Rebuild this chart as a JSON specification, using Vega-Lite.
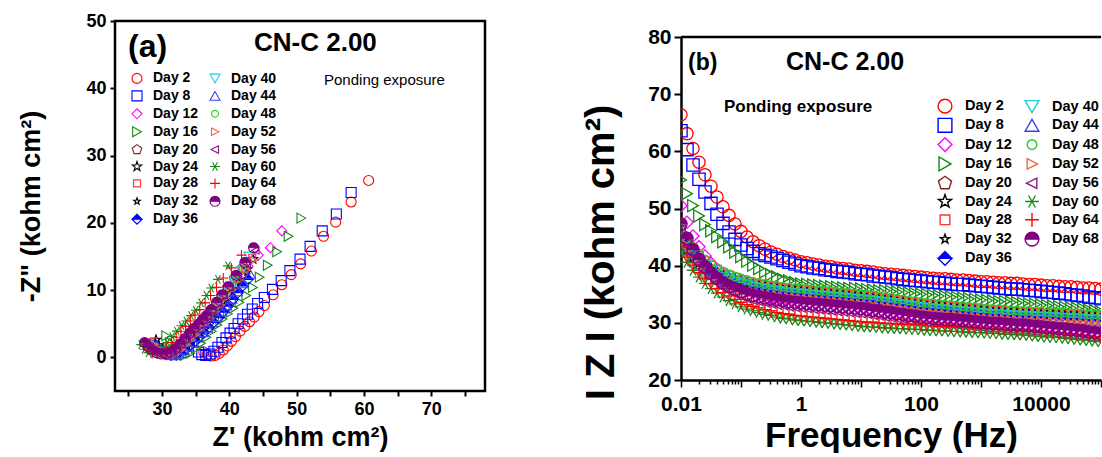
{
"$schema":"https://vega.github.io/schema/vega-lite/v6.json",
"background":"white",
"padding":{"left":16,"top":10,"right":0,"bottom":0},
"config":{"font":"Liberation Sans","view":{"stroke":null},
"axis":{"grid":false,"domainColor":"black","tickColor":"black","labelColor":"black","titleColor":"black","labelFont":"Liberation Sans","titleFont":"Liberation Sans","labelFontWeight":"bold","titleFontWeight":"bold"},
"legend":{"labelFont":"Liberation Sans","labelColor":"black","labelFontWeight":"bold","padding":0}},
"datasets":{
"nyq":[
{"s":"02","x":36.2,"y":0.8},{"s":"02","x":36.7,"y":0.4},{"s":"02","x":37.3,"y":0.2},{"s":"02","x":37.9,"y":0.3},{"s":"02","x":38.5,"y":0.6},{"s":"02","x":39.1,"y":1.1},{"s":"02","x":39.7,"y":1.7},{"s":"02","x":40.3,"y":2.4},{"s":"02","x":40.9,"y":3.1},{"s":"02","x":41.6,"y":3.9},{"s":"02","x":42.3,"y":4.6},{"s":"02","x":43.0,"y":5.3},{"s":"02","x":43.7,"y":6.0},{"s":"02","x":44.4,"y":6.8},{"s":"02","x":45.2,"y":7.7},{"s":"02","x":46.5,"y":9.3},{"s":"02","x":47.8,"y":10.8},{"s":"02","x":49.2,"y":12.3},{"s":"02","x":50.6,"y":13.9},{"s":"02","x":52.2,"y":15.8},{"s":"02","x":54.0,"y":18.0},{"s":"02","x":55.8,"y":20.1},{"s":"02","x":58.1,"y":23.1},{"s":"02","x":60.7,"y":26.3},
{"s":"08","x":35.4,"y":0.8},{"s":"08","x":35.9,"y":0.4},{"s":"08","x":36.5,"y":0.3},{"s":"08","x":37.1,"y":0.5},{"s":"08","x":37.7,"y":0.9},{"s":"08","x":38.3,"y":1.5},{"s":"08","x":38.9,"y":2.2},{"s":"08","x":39.5,"y":2.9},{"s":"08","x":40.1,"y":3.6},{"s":"08","x":40.7,"y":4.3},{"s":"08","x":41.3,"y":5.0},{"s":"08","x":42.0,"y":5.7},{"s":"08","x":42.7,"y":6.4},{"s":"08","x":43.4,"y":7.2},{"s":"08","x":44.2,"y":8.0},{"s":"08","x":45.2,"y":8.9},{"s":"08","x":46.4,"y":10.1},{"s":"08","x":47.7,"y":11.4},{"s":"08","x":49.0,"y":12.9},{"s":"08","x":50.5,"y":14.6},{"s":"08","x":52.0,"y":16.5},{"s":"08","x":53.8,"y":18.8},{"s":"08","x":55.9,"y":21.3},{"s":"08","x":58.1,"y":24.5},
{"s":"12","x":28.5,"y":1.6},{"s":"12","x":29.1,"y":1.1},{"s":"12","x":29.8,"y":0.7},{"s":"12","x":30.5,"y":0.4},{"s":"12","x":31.2,"y":0.3},{"s":"12","x":31.9,"y":0.5},{"s":"12","x":32.6,"y":1.0},{"s":"12","x":33.3,"y":1.7},{"s":"12","x":34.0,"y":2.5},{"s":"12","x":34.7,"y":3.3},{"s":"12","x":35.4,"y":4.1},{"s":"12","x":36.1,"y":4.9},{"s":"12","x":36.9,"y":5.8},{"s":"12","x":37.7,"y":6.8},{"s":"12","x":38.5,"y":7.8},{"s":"12","x":39.4,"y":8.9},{"s":"12","x":40.4,"y":10.2},{"s":"12","x":41.5,"y":11.7},{"s":"12","x":42.8,"y":13.5},{"s":"12","x":44.3,"y":15.2},{"s":"12","x":46.1,"y":16.3},{"s":"12","x":47.8,"y":18.8},
{"s":"16","x":30.6,"y":3.2},{"s":"16","x":31.2,"y":2.2},{"s":"16","x":31.9,"y":1.2},{"s":"16","x":32.6,"y":0.5},{"s":"16","x":33.4,"y":0.3},{"s":"16","x":34.2,"y":0.6},{"s":"16","x":35.0,"y":1.3},{"s":"16","x":35.8,"y":2.1},{"s":"16","x":36.6,"y":3.0},{"s":"16","x":37.4,"y":3.9},{"s":"16","x":38.2,"y":4.8},{"s":"16","x":39.0,"y":5.7},{"s":"16","x":39.8,"y":6.5},{"s":"16","x":40.6,"y":7.3},{"s":"16","x":41.5,"y":8.2},{"s":"16","x":42.5,"y":9.2},{"s":"16","x":43.5,"y":10.4},{"s":"16","x":44.5,"y":11.9},{"s":"16","x":45.7,"y":13.7},{"s":"16","x":47.1,"y":15.7},{"s":"16","x":48.8,"y":18.0},{"s":"16","x":50.7,"y":20.7},
{"s":"20","x":28.2,"y":2.0},{"s":"20","x":28.8,"y":1.4},{"s":"20","x":29.5,"y":0.9},{"s":"20","x":30.2,"y":0.6},{"s":"20","x":30.9,"y":0.5},{"s":"20","x":31.6,"y":0.8},{"s":"20","x":32.3,"y":1.4},{"s":"20","x":33.0,"y":2.1},{"s":"20","x":33.7,"y":2.9},{"s":"20","x":34.4,"y":3.7},{"s":"20","x":35.1,"y":4.5},{"s":"20","x":35.8,"y":5.3},{"s":"20","x":36.5,"y":6.1},{"s":"20","x":37.2,"y":7.0},{"s":"20","x":38.0,"y":8.0},{"s":"20","x":38.8,"y":9.1},{"s":"20","x":39.7,"y":10.3},{"s":"20","x":40.7,"y":11.7},{"s":"20","x":41.9,"y":13.3},
{"s":"24","x":29.1,"y":2.6},{"s":"24","x":29.5,"y":1.8},{"s":"24","x":30.1,"y":1.1},{"s":"24","x":30.8,"y":0.6},{"s":"24","x":31.5,"y":0.4},{"s":"24","x":32.2,"y":0.6},{"s":"24","x":32.9,"y":1.2},{"s":"24","x":33.6,"y":1.9},{"s":"24","x":34.3,"y":2.7},{"s":"24","x":35.0,"y":3.5},{"s":"24","x":35.7,"y":4.3},{"s":"24","x":36.4,"y":5.1},{"s":"24","x":37.1,"y":5.9},{"s":"24","x":37.8,"y":6.8},{"s":"24","x":38.6,"y":7.8},{"s":"24","x":39.4,"y":8.9},{"s":"24","x":40.3,"y":10.1},{"s":"24","x":41.4,"y":11.5},{"s":"24","x":42.6,"y":13.1},{"s":"24","x":43.5,"y":14.6},
{"s":"28","x":28.6,"y":2.3},{"s":"28","x":29.1,"y":1.6},{"s":"28","x":29.7,"y":1.0},{"s":"28","x":30.4,"y":0.6},{"s":"28","x":31.1,"y":0.4},{"s":"28","x":31.8,"y":0.6},{"s":"28","x":32.5,"y":1.2},{"s":"28","x":33.2,"y":1.9},{"s":"28","x":33.9,"y":2.7},{"s":"28","x":34.6,"y":3.5},{"s":"28","x":35.3,"y":4.3},{"s":"28","x":36.0,"y":5.1},{"s":"28","x":36.7,"y":6.0},{"s":"28","x":37.5,"y":7.0},{"s":"28","x":38.3,"y":8.0},{"s":"28","x":39.1,"y":9.1},{"s":"28","x":40.0,"y":10.3},{"s":"28","x":41.1,"y":11.7},{"s":"28","x":42.3,"y":13.2},{"s":"28","x":43.4,"y":14.8},
{"s":"32","x":29.0,"y":2.2},{"s":"32","x":29.6,"y":1.5},{"s":"32","x":30.3,"y":0.9},{"s":"32","x":31.0,"y":0.5},{"s":"32","x":31.7,"y":0.4},{"s":"32","x":32.4,"y":0.6},{"s":"32","x":33.1,"y":1.1},{"s":"32","x":33.8,"y":1.7},{"s":"32","x":34.5,"y":2.4},{"s":"32","x":35.2,"y":3.1},{"s":"32","x":35.9,"y":3.9},{"s":"32","x":36.6,"y":4.7},{"s":"32","x":37.3,"y":5.5},{"s":"32","x":38.0,"y":6.4},{"s":"32","x":38.8,"y":7.4},{"s":"32","x":39.6,"y":8.5},{"s":"32","x":40.5,"y":9.7},{"s":"32","x":41.5,"y":11.1},{"s":"32","x":42.6,"y":12.6},
{"s":"36","x":28.8,"y":2.0},{"s":"36","x":29.4,"y":1.4},{"s":"36","x":30.0,"y":0.9},{"s":"36","x":30.7,"y":0.5},{"s":"36","x":31.4,"y":0.3},{"s":"36","x":32.1,"y":0.3},{"s":"36","x":32.8,"y":0.6},{"s":"36","x":33.5,"y":1.1},{"s":"36","x":34.2,"y":1.7},{"s":"36","x":34.9,"y":2.3},{"s":"36","x":35.6,"y":3.0},{"s":"36","x":36.3,"y":3.7},{"s":"36","x":37.0,"y":4.4},{"s":"36","x":37.7,"y":5.2},{"s":"36","x":38.4,"y":5.9},{"s":"36","x":39.1,"y":6.7},{"s":"36","x":39.8,"y":7.6},{"s":"36","x":40.6,"y":8.6},{"s":"36","x":41.3,"y":9.6},{"s":"36","x":42.0,"y":10.6},{"s":"36","x":42.8,"y":11.6},
{"s":"40","x":28.0,"y":2.0},{"s":"40","x":28.6,"y":1.4},{"s":"40","x":29.3,"y":0.9},{"s":"40","x":30.0,"y":0.5},{"s":"40","x":30.8,"y":0.3},{"s":"40","x":31.6,"y":0.4},{"s":"40","x":32.4,"y":0.9},{"s":"40","x":33.1,"y":1.6},{"s":"40","x":33.8,"y":2.4},{"s":"40","x":34.5,"y":3.2},{"s":"40","x":35.2,"y":4.0},{"s":"40","x":35.9,"y":4.8},{"s":"40","x":36.6,"y":5.6},{"s":"40","x":37.3,"y":6.4},{"s":"40","x":38.1,"y":7.4},{"s":"40","x":38.9,"y":8.5},{"s":"40","x":39.8,"y":9.7},{"s":"40","x":40.8,"y":11.1},{"s":"40","x":41.8,"y":12.8},{"s":"40","x":42.9,"y":15.0},
{"s":"44","x":29.2,"y":1.8},{"s":"44","x":29.8,"y":1.2},{"s":"44","x":30.5,"y":0.7},{"s":"44","x":31.2,"y":0.4},{"s":"44","x":31.9,"y":0.3},{"s":"44","x":32.6,"y":0.6},{"s":"44","x":33.3,"y":1.1},{"s":"44","x":34.0,"y":1.7},{"s":"44","x":34.7,"y":2.3},{"s":"44","x":35.4,"y":3.0},{"s":"44","x":36.1,"y":3.7},{"s":"44","x":36.8,"y":4.4},{"s":"44","x":37.5,"y":5.2},{"s":"44","x":38.2,"y":6.0},{"s":"44","x":38.9,"y":6.8},{"s":"44","x":39.6,"y":7.7},{"s":"44","x":40.4,"y":8.7},{"s":"44","x":41.2,"y":9.8},{"s":"44","x":42.1,"y":11.0},{"s":"44","x":43.1,"y":12.4},
{"s":"48","x":28.4,"y":1.9},{"s":"48","x":29.0,"y":1.3},{"s":"48","x":29.7,"y":0.8},{"s":"48","x":30.4,"y":0.5},{"s":"48","x":31.1,"y":0.4},{"s":"48","x":31.8,"y":0.7},{"s":"48","x":32.5,"y":1.3},{"s":"48","x":33.2,"y":2.0},{"s":"48","x":33.9,"y":2.8},{"s":"48","x":34.6,"y":3.6},{"s":"48","x":35.3,"y":4.4},{"s":"48","x":36.0,"y":5.2},{"s":"48","x":36.7,"y":6.1},{"s":"48","x":37.4,"y":7.0},{"s":"48","x":38.2,"y":8.0},{"s":"48","x":39.0,"y":9.1},{"s":"48","x":39.9,"y":10.3},{"s":"48","x":40.9,"y":11.7},{"s":"48","x":42.0,"y":13.2},
{"s":"52","x":28.8,"y":1.9},{"s":"52","x":29.4,"y":1.3},{"s":"52","x":30.1,"y":0.8},{"s":"52","x":30.8,"y":0.5},{"s":"52","x":31.5,"y":0.4},{"s":"52","x":32.2,"y":0.7},{"s":"52","x":32.9,"y":1.2},{"s":"52","x":33.6,"y":1.9},{"s":"52","x":34.3,"y":2.6},{"s":"52","x":35.0,"y":3.4},{"s":"52","x":35.7,"y":4.2},{"s":"52","x":36.4,"y":5.0},{"s":"52","x":37.1,"y":5.8},{"s":"52","x":37.9,"y":6.8},{"s":"52","x":38.7,"y":7.8},{"s":"52","x":39.5,"y":8.9},{"s":"52","x":40.4,"y":10.1},{"s":"52","x":41.4,"y":11.5},{"s":"52","x":42.5,"y":13.0},{"s":"52","x":43.6,"y":14.4},
{"s":"56","x":27.7,"y":2.1},{"s":"56","x":28.2,"y":1.5},{"s":"56","x":28.8,"y":1.0},{"s":"56","x":29.5,"y":0.6},{"s":"56","x":30.2,"y":0.4},{"s":"56","x":30.9,"y":0.4},{"s":"56","x":31.6,"y":0.7},{"s":"56","x":32.3,"y":1.2},{"s":"56","x":33.0,"y":1.9},{"s":"56","x":33.7,"y":2.7},{"s":"56","x":34.4,"y":3.5},{"s":"56","x":35.0,"y":4.2},{"s":"56","x":35.7,"y":4.8},{"s":"56","x":36.3,"y":5.5},{"s":"56","x":36.9,"y":6.1},{"s":"56","x":37.6,"y":7.0},{"s":"56","x":38.4,"y":8.1},{"s":"56","x":39.2,"y":9.2},{"s":"56","x":40.1,"y":10.4},{"s":"56","x":41.3,"y":12.0},{"s":"56","x":42.6,"y":13.9},{"s":"56","x":43.9,"y":15.9},
{"s":"60","x":26.9,"y":1.9},{"s":"60","x":27.4,"y":1.2},{"s":"60","x":28.0,"y":0.7},{"s":"60","x":28.7,"y":0.5},{"s":"60","x":29.4,"y":0.7},{"s":"60","x":30.1,"y":1.3},{"s":"60","x":30.8,"y":2.2},{"s":"60","x":31.5,"y":3.1},{"s":"60","x":32.2,"y":3.9},{"s":"60","x":32.9,"y":4.7},{"s":"60","x":33.6,"y":5.4},{"s":"60","x":34.3,"y":6.2},{"s":"60","x":35.0,"y":7.0},{"s":"60","x":35.8,"y":8.1},{"s":"60","x":36.6,"y":9.2},{"s":"60","x":37.3,"y":10.3},{"s":"60","x":38.3,"y":11.6},{"s":"60","x":39.8,"y":13.6},
{"s":"64","x":27.3,"y":1.7},{"s":"64","x":27.9,"y":1.1},{"s":"64","x":28.6,"y":0.6},{"s":"64","x":29.3,"y":0.5},{"s":"64","x":30.0,"y":0.8},{"s":"64","x":30.7,"y":1.4},{"s":"64","x":31.4,"y":2.2},{"s":"64","x":32.1,"y":3.0},{"s":"64","x":32.8,"y":3.8},{"s":"64","x":33.5,"y":4.6},{"s":"64","x":34.2,"y":5.4},{"s":"64","x":34.9,"y":6.3},{"s":"64","x":35.6,"y":7.1},{"s":"64","x":36.4,"y":8.1},{"s":"64","x":37.2,"y":9.2},{"s":"64","x":38.1,"y":10.4},{"s":"64","x":39.1,"y":11.8},{"s":"64","x":40.3,"y":13.3},{"s":"64","x":41.8,"y":15.2},
{"s":"68","x":27.4,"y":2.2},{"s":"68","x":27.9,"y":1.6},{"s":"68","x":28.5,"y":1.1},{"s":"68","x":29.2,"y":0.7},{"s":"68","x":29.9,"y":0.5},{"s":"68","x":30.6,"y":0.5},{"s":"68","x":31.3,"y":0.8},{"s":"68","x":32.0,"y":1.3},{"s":"68","x":32.7,"y":2.0},{"s":"68","x":33.4,"y":2.8},{"s":"68","x":34.1,"y":3.6},{"s":"68","x":34.7,"y":4.3},{"s":"68","x":35.4,"y":4.9},{"s":"68","x":36.0,"y":5.6},{"s":"68","x":36.6,"y":6.2},{"s":"68","x":37.3,"y":7.1},{"s":"68","x":38.1,"y":8.2},{"s":"68","x":38.9,"y":9.3},{"s":"68","x":39.8,"y":10.5},{"s":"68","x":41.0,"y":12.2},{"s":"68","x":42.3,"y":14.1},{"s":"68","x":43.6,"y":16.3}
],
"bode":[
{"f":0.01,"02":66.4,"08":63.6,"12":50.5,"16":55.0,"20":45.5,"24":44.2,"28":46.0,"32":43.6,"36":45.0,"40":44.6,"44":44.3,"48":46.5,"52":44.0,"56":46.3,"60":42.3,"64":43.3,"68":47.3},
{"f":0.01259,"02":63.1,"08":60.3,"12":47.6,"16":52.6,"20":43.7,"24":42.7,"28":44.3,"32":42.3,"36":43.3,"40":43.0,"44":42.8,"48":44.8,"52":42.4,"56":43.9,"60":40.6,"64":41.5,"68":44.8},
{"f":0.01585,"02":60.5,"08":57.6,"12":45.2,"16":50.5,"20":42.2,"24":41.5,"28":42.9,"32":41.2,"36":41.9,"40":41.7,"44":41.5,"48":43.3,"52":41.0,"56":42.0,"60":39.2,"64":40.1,"68":42.8},
{"f":0.01995,"02":58.1,"08":55.1,"12":43.3,"16":48.7,"20":41.0,"24":40.6,"28":41.7,"32":40.4,"36":40.8,"40":40.6,"44":40.4,"48":42.1,"52":39.9,"56":40.3,"60":38.0,"64":38.8,"68":41.1},
{"f":0.02512,"02":55.9,"08":52.9,"12":41.7,"16":47.2,"20":40.0,"24":39.9,"28":40.8,"32":39.7,"36":39.9,"40":39.7,"44":39.5,"48":41.1,"52":39.0,"56":39.0,"60":36.9,"64":37.7,"68":39.8},
{"f":0.03162,"02":53.9,"08":50.9,"12":40.4,"16":46.1,"20":39.2,"24":39.3,"28":40.0,"32":39.1,"36":39.1,"40":39.0,"44":38.8,"48":40.3,"52":38.3,"56":37.9,"60":36.0,"64":36.8,"68":38.7},
{"f":0.03981,"02":52.0,"08":49.0,"12":39.3,"16":45.1,"20":38.6,"24":38.7,"28":39.3,"32":38.6,"36":38.5,"40":38.4,"44":38.2,"48":39.6,"52":37.7,"56":37.0,"60":35.2,"64":36.0,"68":37.8},
{"f":0.05012,"02":50.3,"08":47.4,"12":38.4,"16":44.2,"20":38.0,"24":38.2,"28":38.7,"32":38.1,"36":37.9,"40":37.8,"44":37.6,"48":39.0,"52":37.1,"56":36.2,"60":34.5,"64":35.3,"68":37.0},
{"f":0.0631,"02":48.8,"08":45.9,"12":37.6,"16":43.3,"20":37.6,"24":37.8,"28":38.3,"32":37.7,"36":37.5,"40":37.4,"44":37.2,"48":38.5,"52":36.7,"56":35.6,"60":33.9,"64":34.7,"68":36.4},
{"f":0.07943,"02":47.3,"08":44.6,"12":36.9,"16":42.4,"20":37.2,"24":37.5,"28":37.9,"32":37.3,"36":37.1,"40":37.0,"44":36.8,"48":38.1,"52":36.3,"56":35.1,"60":33.3,"64":34.1,"68":35.9},
{"f":0.1,"02":46.0,"08":43.6,"12":36.3,"16":41.6,"20":36.9,"24":37.2,"28":37.5,"32":37.0,"36":36.8,"40":36.7,"44":36.5,"48":37.8,"52":36.0,"56":34.7,"60":32.8,"64":33.6,"68":35.5},
{"f":0.1259,"02":45.0,"08":43.0,"12":35.8,"16":40.8,"20":36.6,"24":36.9,"28":37.2,"32":36.7,"36":36.5,"40":36.4,"44":36.2,"48":37.5,"52":35.7,"56":34.3,"60":32.4,"64":33.2,"68":35.1},
{"f":0.1585,"02":44.2,"08":42.5,"12":35.4,"16":40.1,"20":36.3,"24":36.6,"28":36.9,"32":36.4,"36":36.2,"40":36.1,"44":35.9,"48":37.2,"52":35.4,"56":34.0,"60":32.1,"64":32.9,"68":34.8},
{"f":0.1995,"02":43.5,"08":42.1,"12":35.0,"16":39.5,"20":36.1,"24":36.4,"28":36.7,"32":36.2,"36":36.0,"40":35.9,"44":35.7,"48":37.0,"52":35.2,"56":33.8,"60":31.8,"64":32.6,"68":34.6},
{"f":0.2512,"02":42.9,"08":41.8,"12":34.7,"16":38.9,"20":35.9,"24":36.2,"28":36.5,"32":36.0,"36":35.8,"40":35.7,"44":35.5,"48":36.8,"52":35.0,"56":33.6,"60":31.5,"64":32.3,"68":34.4},
{"f":0.3162,"02":42.4,"08":41.5,"12":34.4,"16":38.4,"20":35.7,"24":36.0,"28":36.3,"32":35.8,"36":35.6,"40":35.5,"44":35.3,"48":36.6,"52":34.8,"56":33.4,"60":31.3,"64":32.1,"68":34.2},
{"f":0.3981,"02":42.0,"08":41.2,"12":34.1,"16":38.0,"20":35.6,"24":35.9,"28":36.2,"32":35.7,"36":35.5,"40":35.4,"44":35.2,"48":36.5,"52":34.7,"56":33.2,"60":31.0,"64":31.8,"68":34.0},
{"f":0.5012,"02":41.6,"08":40.9,"12":33.9,"16":37.6,"20":35.4,"24":35.7,"28":36.0,"32":35.5,"36":35.3,"40":35.2,"44":35.0,"48":36.3,"52":34.5,"56":33.1,"60":30.8,"64":31.6,"68":33.9},
{"f":0.631,"02":41.3,"08":40.6,"12":33.6,"16":37.3,"20":35.3,"24":35.6,"28":35.9,"32":35.4,"36":35.2,"40":35.1,"44":34.9,"48":36.2,"52":34.4,"56":32.9,"60":30.7,"64":31.5,"68":33.7},
{"f":0.7943,"02":41.0,"08":40.3,"12":33.5,"16":37.0,"20":35.2,"24":35.5,"28":35.8,"32":35.3,"36":35.1,"40":35.0,"44":34.8,"48":36.1,"52":34.3,"56":32.8,"60":30.5,"64":31.3,"68":33.6},
{"f":1,"02":40.7,"08":40.0,"12":33.3,"16":36.8,"20":35.1,"24":35.4,"28":35.7,"32":35.2,"36":35.0,"40":34.9,"44":34.7,"48":36.0,"52":34.2,"56":32.7,"60":30.4,"64":31.2,"68":33.5},
{"f":1.259,"02":40.5,"08":39.8,"12":33.2,"16":36.7,"20":35.0,"24":35.3,"28":35.6,"32":35.1,"36":34.9,"40":34.8,"44":34.6,"48":35.9,"52":34.1,"56":32.6,"60":30.3,"64":31.1,"68":33.4},
{"f":1.585,"02":40.3,"08":39.6,"12":33.1,"16":36.6,"20":34.9,"24":35.2,"28":35.5,"32":35.0,"36":34.8,"40":34.7,"44":34.5,"48":35.8,"52":34.0,"56":32.5,"60":30.2,"64":31.0,"68":33.3},
{"f":1.995,"02":40.1,"08":39.5,"12":33.0,"16":36.5,"20":34.8,"24":35.1,"28":35.4,"32":34.9,"36":34.7,"40":34.6,"44":34.4,"48":35.7,"52":33.9,"56":32.4,"60":30.1,"64":30.9,"68":33.2},
{"f":2.512,"02":39.9,"08":39.3,"12":32.9,"16":36.4,"20":34.7,"24":35.0,"28":35.3,"32":34.8,"36":34.6,"40":34.5,"44":34.3,"48":35.6,"52":33.8,"56":32.3,"60":30.0,"64":30.8,"68":33.1},
{"f":3.162,"02":39.8,"08":39.2,"12":32.8,"16":36.3,"20":34.6,"24":34.9,"28":35.2,"32":34.7,"36":34.5,"40":34.4,"44":34.2,"48":35.5,"52":33.7,"56":32.2,"60":29.9,"64":30.7,"68":33.0},
{"f":3.981,"02":39.6,"08":39.0,"12":32.7,"16":36.2,"20":34.5,"24":34.8,"28":35.1,"32":34.6,"36":34.4,"40":34.3,"44":34.1,"48":35.4,"52":33.6,"56":32.1,"60":29.8,"64":30.6,"68":32.9},
{"f":5.012,"02":39.5,"08":38.9,"12":32.6,"16":36.1,"20":34.4,"24":34.7,"28":35.0,"32":34.5,"36":34.3,"40":34.2,"44":34.0,"48":35.3,"52":33.5,"56":32.0,"60":29.7,"64":30.5,"68":32.8},
{"f":6.31,"02":39.4,"08":38.8,"12":32.5,"16":36.0,"20":34.3,"24":34.6,"28":34.9,"32":34.4,"36":34.2,"40":34.1,"44":33.9,"48":35.2,"52":33.4,"56":31.9,"60":29.6,"64":30.4,"68":32.7},
{"f":7.943,"02":39.2,"08":38.6,"12":32.4,"16":36.0,"20":34.2,"24":34.5,"28":34.8,"32":34.3,"36":34.1,"40":34.0,"44":33.8,"48":35.1,"52":33.3,"56":31.8,"60":29.5,"64":30.3,"68":32.6},
{"f":10,"02":39.1,"08":38.5,"12":32.3,"16":35.9,"20":34.1,"24":34.4,"28":34.7,"32":34.2,"36":34.0,"40":33.9,"44":33.7,"48":35.0,"52":33.2,"56":31.7,"60":29.4,"64":30.2,"68":32.5},
{"f":12.59,"02":39.0,"08":38.4,"12":32.2,"16":35.8,"20":34.0,"24":34.3,"28":34.6,"32":34.1,"36":33.9,"40":33.8,"44":33.6,"48":34.9,"52":33.1,"56":31.6,"60":29.3,"64":30.1,"68":32.4},
{"f":15.85,"02":38.9,"08":38.2,"12":32.0,"16":35.7,"20":33.9,"24":34.2,"28":34.5,"32":34.0,"36":33.8,"40":33.7,"44":33.5,"48":34.8,"52":33.0,"56":31.4,"60":29.3,"64":30.1,"68":32.2},
{"f":19.95,"02":38.7,"08":38.1,"12":31.9,"16":35.6,"20":33.7,"24":34.0,"28":34.3,"32":33.8,"36":33.6,"40":33.5,"44":33.3,"48":34.6,"52":32.8,"56":31.3,"60":29.2,"64":30.0,"68":32.1},
{"f":25.12,"02":38.6,"08":38.0,"12":31.7,"16":35.6,"20":33.6,"24":33.9,"28":34.2,"32":33.7,"36":33.5,"40":33.4,"44":33.2,"48":34.5,"52":32.7,"56":31.1,"60":29.1,"64":29.9,"68":31.9},
{"f":31.62,"02":38.5,"08":37.9,"12":31.6,"16":35.5,"20":33.5,"24":33.8,"28":34.1,"32":33.6,"36":33.4,"40":33.3,"44":33.1,"48":34.4,"52":32.6,"56":31.0,"60":29.1,"64":29.9,"68":31.8},
{"f":39.81,"02":38.4,"08":37.7,"12":31.4,"16":35.4,"20":33.3,"24":33.6,"28":33.9,"32":33.4,"36":33.2,"40":33.1,"44":32.9,"48":34.2,"52":32.4,"56":30.8,"60":29.0,"64":29.8,"68":31.6},
{"f":50.12,"02":38.3,"08":37.6,"12":31.3,"16":35.3,"20":33.2,"24":33.5,"28":33.8,"32":33.3,"36":33.1,"40":33.0,"44":32.8,"48":34.1,"52":32.3,"56":30.7,"60":29.0,"64":29.8,"68":31.5},
{"f":63.1,"02":38.2,"08":37.5,"12":31.1,"16":35.2,"20":33.0,"24":33.3,"28":33.6,"32":33.1,"36":32.9,"40":32.8,"44":32.6,"48":33.9,"52":32.1,"56":30.5,"60":28.9,"64":29.7,"68":31.3},
{"f":79.43,"02":38.1,"08":37.4,"12":31.0,"16":35.1,"20":32.9,"24":33.2,"28":33.5,"32":33.0,"36":32.8,"40":32.7,"44":32.5,"48":33.8,"52":32.0,"56":30.4,"60":28.9,"64":29.7,"68":31.2},
{"f":100,"02":38.0,"08":37.3,"12":30.8,"16":35.0,"20":32.7,"24":33.0,"28":33.3,"32":32.8,"36":32.6,"40":32.5,"44":32.3,"48":33.6,"52":31.8,"56":30.2,"60":28.8,"64":29.6,"68":31.0},
{"f":125.9,"02":37.9,"08":37.2,"12":30.7,"16":34.9,"20":32.6,"24":32.9,"28":33.2,"32":32.7,"36":32.5,"40":32.4,"44":32.2,"48":33.5,"52":31.7,"56":30.1,"60":28.7,"64":29.5,"68":30.9},
{"f":158.5,"02":37.8,"08":37.1,"12":30.6,"16":34.8,"20":32.5,"24":32.8,"28":33.1,"32":32.6,"36":32.4,"40":32.3,"44":32.1,"48":33.4,"52":31.6,"56":30.0,"60":28.7,"64":29.5,"68":30.8},
{"f":199.5,"02":37.7,"08":37.0,"12":30.5,"16":34.7,"20":32.4,"24":32.7,"28":33.0,"32":32.5,"36":32.3,"40":32.2,"44":32.0,"48":33.3,"52":31.5,"56":29.9,"60":28.6,"64":29.4,"68":30.7},
{"f":251.2,"02":37.7,"08":36.9,"12":30.4,"16":34.6,"20":32.3,"24":32.6,"28":32.9,"32":32.4,"36":32.2,"40":32.1,"44":31.9,"48":33.2,"52":31.4,"56":29.8,"60":28.6,"64":29.4,"68":30.6},
{"f":316.2,"02":37.6,"08":36.8,"12":30.4,"16":34.5,"20":32.2,"24":32.5,"28":32.8,"32":32.3,"36":32.1,"40":32.0,"44":31.8,"48":33.1,"52":31.3,"56":29.8,"60":28.5,"64":29.3,"68":30.6},
{"f":398.1,"02":37.5,"08":36.7,"12":30.3,"16":34.4,"20":32.1,"24":32.4,"28":32.7,"32":32.2,"36":32.0,"40":31.9,"44":31.7,"48":33.0,"52":31.2,"56":29.7,"60":28.5,"64":29.3,"68":30.5},
{"f":501.2,"02":37.5,"08":36.7,"12":30.2,"16":34.3,"20":32.0,"24":32.3,"28":32.6,"32":32.1,"36":31.9,"40":31.8,"44":31.6,"48":32.9,"52":31.1,"56":29.6,"60":28.4,"64":29.2,"68":30.4},
{"f":631,"02":37.4,"08":36.6,"12":30.1,"16":34.2,"20":31.9,"24":32.2,"28":32.5,"32":32.0,"36":31.8,"40":31.7,"44":31.5,"48":32.8,"52":31.0,"56":29.5,"60":28.4,"64":29.2,"68":30.3},
{"f":794.3,"02":37.3,"08":36.5,"12":30.0,"16":34.1,"20":31.8,"24":32.1,"28":32.4,"32":31.9,"36":31.7,"40":31.6,"44":31.4,"48":32.7,"52":30.9,"56":29.4,"60":28.3,"64":29.1,"68":30.2},
{"f":1000,"02":37.2,"08":36.4,"12":29.9,"16":34.0,"20":31.7,"24":32.0,"28":32.3,"32":31.8,"36":31.6,"40":31.5,"44":31.3,"48":32.6,"52":30.8,"56":29.3,"60":28.3,"64":29.1,"68":30.1},
{"f":1259,"02":37.2,"08":36.3,"12":29.8,"16":33.9,"20":31.6,"24":31.9,"28":32.2,"32":31.7,"36":31.5,"40":31.4,"44":31.2,"48":32.5,"52":30.7,"56":29.2,"60":28.2,"64":29.0,"68":30.0},
{"f":1585,"02":37.1,"08":36.2,"12":29.7,"16":33.8,"20":31.5,"24":31.8,"28":32.1,"32":31.6,"36":31.4,"40":31.3,"44":31.1,"48":32.4,"52":30.6,"56":29.1,"60":28.2,"64":29.0,"68":29.9},
{"f":1995,"02":37.0,"08":36.1,"12":29.7,"16":33.7,"20":31.5,"24":31.8,"28":32.1,"32":31.6,"36":31.4,"40":31.3,"44":31.1,"48":32.4,"52":30.6,"56":29.1,"60":28.1,"64":28.9,"68":29.9},
{"f":2512,"02":37.0,"08":36.0,"12":29.6,"16":33.7,"20":31.4,"24":31.7,"28":32.0,"32":31.5,"36":31.3,"40":31.2,"44":31.0,"48":32.3,"52":30.5,"56":29.0,"60":28.0,"64":28.8,"68":29.8},
{"f":3162,"02":36.9,"08":35.9,"12":29.5,"16":33.6,"20":31.3,"24":31.6,"28":31.9,"32":31.4,"36":31.2,"40":31.1,"44":30.9,"48":32.2,"52":30.4,"56":28.9,"60":28.0,"64":28.8,"68":29.7},
{"f":3981,"02":36.9,"08":35.9,"12":29.4,"16":33.5,"20":31.3,"24":31.6,"28":31.9,"32":31.4,"36":31.2,"40":31.1,"44":30.9,"48":32.2,"52":30.4,"56":28.8,"60":27.9,"64":28.7,"68":29.6},
{"f":5012,"02":36.8,"08":35.8,"12":29.4,"16":33.4,"20":31.2,"24":31.5,"28":31.8,"32":31.3,"36":31.1,"40":31.0,"44":30.8,"48":32.1,"52":30.3,"56":28.8,"60":27.9,"64":28.7,"68":29.6},
{"f":6310,"02":36.7,"08":35.7,"12":29.3,"16":33.3,"20":31.2,"24":31.5,"28":31.8,"32":31.3,"36":31.1,"40":31.0,"44":30.8,"48":32.1,"52":30.3,"56":28.7,"60":27.8,"64":28.6,"68":29.5},
{"f":7943,"02":36.7,"08":35.6,"12":29.2,"16":33.2,"20":31.1,"24":31.4,"28":31.7,"32":31.2,"36":31.0,"40":30.9,"44":30.7,"48":32.0,"52":30.2,"56":28.6,"60":27.7,"64":28.5,"68":29.4},
{"f":10000,"02":36.6,"08":35.5,"12":29.1,"16":33.1,"20":31.1,"24":31.4,"28":31.7,"32":31.2,"36":31.0,"40":30.9,"44":30.7,"48":32.0,"52":30.2,"56":28.5,"60":27.6,"64":28.4,"68":29.3},
{"f":12590,"02":36.5,"08":35.4,"12":29.0,"16":33.0,"20":31.0,"24":31.3,"28":31.6,"32":31.1,"36":30.9,"40":30.8,"44":30.6,"48":31.9,"52":30.1,"56":28.4,"60":27.5,"64":28.3,"68":29.2},
{"f":15850,"02":36.5,"08":35.3,"12":28.9,"16":32.9,"20":31.0,"24":31.3,"28":31.6,"32":31.1,"36":30.9,"40":30.8,"44":30.6,"48":31.9,"52":30.1,"56":28.3,"60":27.5,"64":28.3,"68":29.1},
{"f":19950,"02":36.4,"08":35.2,"12":28.8,"16":32.8,"20":30.9,"24":31.2,"28":31.5,"32":31.0,"36":30.8,"40":30.7,"44":30.5,"48":31.8,"52":30.0,"56":28.2,"60":27.4,"64":28.2,"68":29.0},
{"f":25120,"02":36.3,"08":35.1,"12":28.7,"16":32.7,"20":30.9,"24":31.2,"28":31.5,"32":31.0,"36":30.8,"40":30.7,"44":30.5,"48":31.8,"52":30.0,"56":28.1,"60":27.3,"64":28.1,"68":28.9},
{"f":31620,"02":36.3,"08":34.9,"12":28.6,"16":32.6,"20":30.8,"24":31.1,"28":31.4,"32":30.9,"36":30.7,"40":30.6,"44":30.4,"48":31.7,"52":29.9,"56":28.0,"60":27.2,"64":28.0,"68":28.8},
{"f":39810,"02":36.2,"08":34.8,"12":28.5,"16":32.5,"20":30.8,"24":31.1,"28":31.4,"32":30.9,"36":30.7,"40":30.6,"44":30.4,"48":31.7,"52":29.9,"56":27.9,"60":27.1,"64":27.9,"68":28.7},
{"f":50120,"02":36.1,"08":34.7,"12":28.4,"16":32.4,"20":30.7,"24":31.0,"28":31.3,"32":30.8,"36":30.6,"40":30.5,"44":30.3,"48":31.6,"52":29.8,"56":27.8,"60":27.0,"64":27.8,"68":28.6},
{"f":63100,"02":36.1,"08":34.5,"12":28.2,"16":32.2,"20":30.6,"24":30.9,"28":31.2,"32":30.7,"36":30.5,"40":30.4,"44":30.2,"48":31.5,"52":29.7,"56":27.6,"60":26.9,"64":27.7,"68":28.4},
{"f":79430,"02":36.0,"08":34.4,"12":28.1,"16":32.1,"20":30.6,"24":30.9,"28":31.2,"32":30.7,"36":30.5,"40":30.4,"44":30.2,"48":31.5,"52":29.7,"56":27.5,"60":26.8,"64":27.6,"68":28.3},
{"f":100000,"02":35.9,"08":34.2,"12":27.9,"16":31.9,"20":30.5,"24":30.8,"28":31.1,"32":30.6,"36":30.4,"40":30.3,"44":30.1,"48":31.4,"52":29.6,"56":27.3,"60":26.7,"64":27.5,"68":28.1}
]},
"hconcat":[
{"width":370,"height":370,
"view":{"stroke":"black","strokeWidth":2.5},
"layer":[
{"data":{"name":"nyq"},
"mark":{"type":"point","filled":true,"size":100,"strokeWidth":1.1,"opacity":1},
"encoding":{
"x":{"field":"x","type":"quantitative","scale":{"domain":[23,78],"nice":false,"zero":false},
"axis":{"title":"Z' (kohm cm²)","values":[25,30,35,40,45,50,55,60,65,70,75],"labels":true,"labelExpr":"datum.value % 10 == 0 ? '' + datum.value : ''","labelColor":"black","labelAngle":0,"tickSize":5,"tickWidth":2,"labelFontSize":18,"titleFontSize":27,"labelPadding":4,"titlePadding":6,"domain":false,"labelFlush":false,"labelOverlap":false}},
"y":{"field":"y","type":"quantitative","scale":{"domain":[-5,50],"nice":false,"zero":false},
"axis":{"title":"-Z\" (kohm cm²)","values":[0,10,20,30,40,50],"tickSize":5,"tickWidth":2,"labelFontSize":18,"titleFontSize":27,"labelPadding":4,"titlePadding":40,"domain":false,"labelOverlap":false}},
"stroke":{"field":"s","type":"nominal",
"scale":{"domain":["02","08","12","16","20","24","28","32","36","40","44","48","52","56","60","64","68"],
"range":["#FF0000","#0000FF","#FF00FF","#138A13","#8B2020","#000000","#FF3333","#000000","#0000FF","#20CCDD","#4040F0","#33CC33","#EE6644","#8A1A8A","#1A8A1A","#FF0000","#800080"]},
"legend":{"orient":"none","legendX":15,"legendY":50,"columns":2,"title":null,"labelExpr":"'Day ' + toNumber(datum.label)","labelFontSize":14,"labelFontWeight":"bold","symbolSize":100,"symbolStrokeWidth":1.1,"rowPadding":1.9,"columnPadding":8,"labelOffset":9,"padding":0}},
"fill":{"field":"s","type":"nominal",
"scale":{"domain":["02","08","12","16","20","24","28","32","36","40","44","48","52","56","60","64","68"],
"range":["transparent","transparent","transparent","transparent","transparent","transparent","transparent","transparent","#0000FF","transparent","transparent","transparent","transparent","transparent","transparent","transparent","#800080"]}},
"shape":{"field":"s","type":"nominal",
"scale":{"domain":["02","08","12","16","20","24","28","32","36","40","44","48","52","56","60","64","68"],
"range":["circle","square","diamond","triangle-right","M0,-1L0.951,-0.309L0.588,0.809L-0.588,0.809L-0.951,-0.309Z","M0,-1L0.235,-0.324L0.951,-0.309L0.38,0.124L0.588,0.809L0,0.4L-0.588,0.809L-0.38,0.124L-0.951,-0.309L-0.235,-0.324Z","M-0.7,-0.7L0.7,-0.7L0.7,0.7L-0.7,0.7Z","M0,-0.7L0.165,-0.227L0.666,-0.216L0.266,0.087L0.412,0.566L0,0.28L-0.412,0.566L-0.266,0.087L-0.666,-0.216L-0.165,-0.227Z","M0,-1L1,0L0,1L-1,0ZM1,0L-1,0L0,1Z","triangle-down","triangle-up","M0.7,0L0.606,0.35L0.35,0.606L0,0.7L-0.35,0.606L-0.606,0.35L-0.7,0L-0.606,-0.35L-0.35,-0.606L0,-0.7L0.35,-0.606L0.606,-0.35Z","M-0.7,-0.75L0.8,0L-0.7,0.75Z","M0.7,-0.75L-0.8,0L0.7,0.75Z","M-1,0L1,0M-0.5,-0.87L0.5,0.87M-0.5,0.87L0.5,-0.87","M-1,0L1,0M0,-1L0,1","M1,0L0.924,0.383L0.707,0.707L0.383,0.924L0,1L-0.383,0.924L-0.707,0.707L-0.924,0.383L-1,0L-0.924,-0.383L-0.707,-0.707L-0.383,-0.924L0,-1L0.383,-0.924L0.707,-0.707L0.924,-0.383ZM1,0L-1,0L-0.924,0.383L-0.707,0.707L-0.383,0.924L0,1L0.383,0.924L0.707,0.707L0.924,0.383Z"]}},
"order":{"field":"s","type":"ordinal"}
}},
{"data":{"values":[{}]},"mark":{"type":"text","text":"(a)","align":"left","baseline":"alphabetic","fontSize":32,"fontWeight":"bold","font":"Liberation Sans","color":"black"},"encoding":{"x":{"datum":24.93,"type":"quantitative","axis":{"title":"Z' (kohm cm²)","values":[25,30,35,40,45,50,55,60,65,70,75],"labels":true,"labelExpr":"datum.value % 10 == 0 ? '' + datum.value : ''","labelColor":"black","labelAngle":0,"tickSize":5,"tickWidth":2,"labelFontSize":18,"titleFontSize":27,"labelPadding":4,"titlePadding":6,"domain":false,"labelFlush":false,"labelOverlap":false}},"y":{"datum":44.65}}},
{"data":{"values":[{}]},"mark":{"type":"text","text":"CN-C 2.00","align":"left","baseline":"alphabetic","fontSize":26,"fontWeight":"bold","font":"Liberation Sans","color":"black"},"encoding":{"x":{"datum":43.66,"type":"quantitative","axis":{"title":"Z' (kohm cm²)","values":[25,30,35,40,45,50,55,60,65,70,75],"labels":true,"labelExpr":"datum.value % 10 == 0 ? '' + datum.value : ''","labelColor":"black","labelAngle":0,"tickSize":5,"tickWidth":2,"labelFontSize":18,"titleFontSize":27,"labelPadding":4,"titlePadding":6,"domain":false,"labelFlush":false,"labelOverlap":false}},"y":{"datum":45.5}}},
{"data":{"values":[{}]},"mark":{"type":"text","text":"Ponding exposure","align":"left","baseline":"alphabetic","fontSize":15,"font":"Liberation Sans","color":"black"},"encoding":{"x":{"datum":54.07,"type":"quantitative","axis":{"title":"Z' (kohm cm²)","values":[25,30,35,40,45,50,55,60,65,70,75],"labels":true,"labelExpr":"datum.value % 10 == 0 ? '' + datum.value : ''","labelColor":"black","labelAngle":0,"tickSize":5,"tickWidth":2,"labelFontSize":18,"titleFontSize":27,"labelPadding":4,"titlePadding":6,"domain":false,"labelFlush":false,"labelOverlap":false}},"y":{"datum":40.44}}}
]},
{"vconcat":[
{"width":420,"height":1,"data":{"values":[{}]},"mark":{"type":"text","text":""},"encoding":{}},
{"width":420,"height":343,
"layer":[
{"data":{"name":"bode"},
"transform":[{"fold":["02","08","12","16","20","24","28","32","36","40","44","48","52","56","60","64","68"],"as":["s","z"]}],
"mark":{"type":"point","filled":true,"size":150,"strokeWidth":1.3,"opacity":1,"clip":true},
"encoding":{
"x":{"field":"f","type":"quantitative","scale":{"type":"log","domain":[0.01,100000],"nice":false},
"axis":{"title":"Frequency (Hz)","format":"~g","values":[0.01,0.02,0.03,0.04,0.05,0.06,0.07,0.08,0.09,0.1,0.2,0.3,0.4,0.5,0.6,0.7,0.8,0.9,1,2,3,4,5,6,7,8,9,10,20,30,40,50,60,70,80,90,100,200,300,400,500,600,700,800,900,1000,2000,3000,4000,5000,6000,7000,8000,9000,10000,20000,30000,40000,50000,60000,70000,80000,90000,100000],
"labelExpr":"datum.value == 0.01 || datum.value == 1 || datum.value == 100 || datum.value == 10000 ? datum.label : ''",
"tickSize":{"condition":{"test":"datum.value == 0.01 || datum.value == 0.1 || datum.value == 1 || datum.value == 10 || datum.value == 100 || datum.value == 1000 || datum.value == 10000 || datum.value == 100000","value":7},"value":4},
"tickWidth":1.5,"labelFontSize":21,"titleFontSize":35,"labelPadding":6,"titlePadding":4,"domainWidth":2.5,"labelFlush":false,"labelOverlap":false}},
"y":{"field":"z","type":"quantitative","scale":{"domain":[20,80],"nice":false,"zero":false},
"axis":{"title":"I Z I (kohm cm²)","values":[20,30,40,50,60,70,80],"tickSize":7,"tickWidth":2,"labelFontSize":21,"titleFontSize":40,"labelPadding":3,"titlePadding":26,"titleY":215,"domainWidth":2.5,"labelOverlap":false}},
"stroke":{"field":"s","type":"nominal",
"scale":{"domain":["02","08","12","16","20","24","28","32","36","40","44","48","52","56","60","64","68"],
"range":["#FF0000","#0000FF","#FF00FF","#138A13","#8B2020","#000000","#FF3333","#000000","#0000FF","#20CCDD","#4040F0","#33CC33","#EE6644","#8A1A8A","#1A8A1A","#FF0000","#800080"]},
"legend":{"orient":"none","legendX":256,"legendY":77,"columns":2,"title":null,"labelExpr":"'Day ' + toNumber(datum.label)","labelFontSize":14.5,"labelFontWeight":"bold","symbolSize":190,"symbolStrokeWidth":1.4,"rowPadding":-0.7,"columnPadding":10,"labelOffset":12,"padding":0}},
"fill":{"field":"s","type":"nominal",
"scale":{"domain":["02","08","12","16","20","24","28","32","36","40","44","48","52","56","60","64","68"],
"range":["transparent","transparent","transparent","transparent","transparent","transparent","transparent","transparent","#0000FF","transparent","transparent","transparent","transparent","transparent","transparent","transparent","#800080"]}},
"shape":{"field":"s","type":"nominal",
"scale":{"domain":["02","08","12","16","20","24","28","32","36","40","44","48","52","56","60","64","68"],
"range":["circle","square","diamond","triangle-right","M0,-1L0.951,-0.309L0.588,0.809L-0.588,0.809L-0.951,-0.309Z","M0,-1L0.235,-0.324L0.951,-0.309L0.38,0.124L0.588,0.809L0,0.4L-0.588,0.809L-0.38,0.124L-0.951,-0.309L-0.235,-0.324Z","M-0.7,-0.7L0.7,-0.7L0.7,0.7L-0.7,0.7Z","M0,-0.7L0.165,-0.227L0.666,-0.216L0.266,0.087L0.412,0.566L0,0.28L-0.412,0.566L-0.266,0.087L-0.666,-0.216L-0.165,-0.227Z","M0,-1L1,0L0,1L-1,0ZM1,0L-1,0L0,1Z","triangle-down","triangle-up","M0.7,0L0.606,0.35L0.35,0.606L0,0.7L-0.35,0.606L-0.606,0.35L-0.7,0L-0.606,-0.35L-0.35,-0.606L0,-0.7L0.35,-0.606L0.606,-0.35Z","M-0.7,-0.75L0.8,0L-0.7,0.75Z","M0.7,-0.75L-0.8,0L0.7,0.75Z","M-1,0L1,0M-0.5,-0.87L0.5,0.87M-0.5,0.87L0.5,-0.87","M-1,0L1,0M0,-1L0,1","M1,0L0.924,0.383L0.707,0.707L0.383,0.924L0,1L-0.383,0.924L-0.707,0.707L-0.924,0.383L-1,0L-0.924,-0.383L-0.707,-0.707L-0.383,-0.924L0,-1L0.383,-0.924L0.707,-0.707L0.924,-0.383ZM1,0L-1,0L-0.924,0.383L-0.707,0.707L-0.383,0.924L0,1L0.383,0.924L0.707,0.707L0.924,0.383Z"]}},
"order":{"field":"s","type":"ordinal"}
}},
{"data":{"values":[{}]},"mark":{"type":"rule","stroke":"black","strokeWidth":2.5},"encoding":{"y":{"datum":80}}},
{"data":{"values":[{}]},"mark":{"type":"text","text":"(b)","align":"left","baseline":"alphabetic","fontSize":23,"fontWeight":"bold","font":"Liberation Sans","color":"black"},"encoding":{"x":{"datum":0.01308},"y":{"datum":74.17}}},
{"data":{"values":[{}]},"mark":{"type":"text","text":"CN-C 2.00","align":"left","baseline":"alphabetic","fontSize":25,"fontWeight":"bold","font":"Liberation Sans","color":"black"},"encoding":{"x":{"datum":0.5623},"y":{"datum":74.17}}},
{"data":{"values":[{}]},"mark":{"type":"text","text":"Ponding exposure","align":"left","baseline":"alphabetic","fontSize":17,"fontWeight":"bold","font":"Liberation Sans","color":"black"},"encoding":{"x":{"datum":0.05207},"y":{"datum":66.88}}}
]}
],"spacing":15,"bounds":"flush"}
],
"spacing":196,
"bounds":"flush",
"resolve":{"scale":{"stroke":"independent","fill":"independent","shape":"independent"},"legend":{"stroke":"independent","fill":"independent","shape":"independent"}}
}
